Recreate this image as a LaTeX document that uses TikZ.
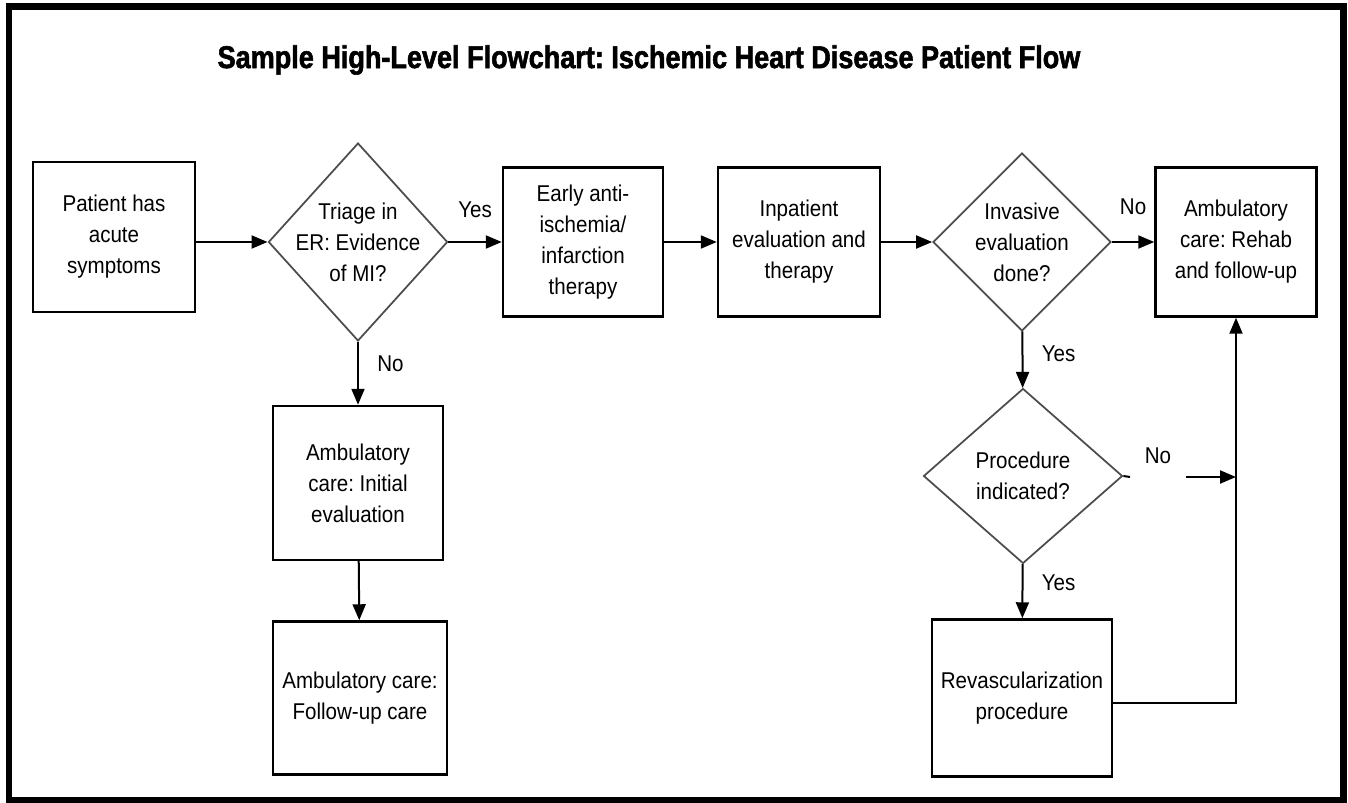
\documentclass[tikz,border=0pt]{standalone}
\usepackage{fontspec}
\setmainfont{Liberation Sans}[FakeStretch=0.9]
\newfontfamily\titlefont{Liberation Sans Bold}[FakeStretch=0.86, FakeBold=1.8]
\frenchspacing
\usetikzlibrary{shapes.geometric,arrows.meta}
\tikzset{
        every node/.style={font=\fontsize{13}{17.6}\selectfont, align=center},
        box/.style={rectangle, draw=black, line width=0.5mm, minimum width=3.24cm, minimum height=3cm, inner sep=2pt},
        decision/.style={diamond, draw=black!70, line width=0.35mm, inner sep=0pt, aspect=1},
        wire/.style={draw=black, line width=0.4mm},
        flow/.style={wire, -{Triangle[length=3.2mm,width=2.6mm]}},
        lbl/.style={font=\fontsize{13}{15}\selectfont},
        frame/.style={line width=1.4mm}
          }
\begin{document}
\begin{tikzpicture}[x=0.02cm, y=-0.02cm]
        \useasboundingbox (0,0) rectangle (1348,803);
        \draw[frame] (9,6.5) rectangle (1343.5,800);
        \node[font=\titlefont\fontsize{17.9}{20}\selectfont] (title) at (649,60) {Sample High-Level Flowchart: Ischemic Heart Disease Patient Flow};

        % top row
        \node[box] (patient) at (114,237) {Patient has\\acute\\symptoms};
        \node[decision, inner sep=-1.2mm, minimum width=3.58cm, minimum height=3.96cm] (triage) at (358,242) {Triage in\\ER: Evidence\\of MI?};
        \node[box, minimum width=3.2cm, minimum height=2.98cm] (early) at (583,242) {Early anti-\\ischemia/\\infarction\\therapy};
        \node[box, minimum height=2.98cm] (inpatient) at (799,242) {Inpatient\\evaluation and\\therapy};
        \node[decision, minimum width=3.56cm, minimum height=3.56cm] (invasive) at (1022,242) {Invasive\\evaluation\\done?};
        \node[box, minimum width=3.22cm, minimum height=2.98cm] (rehab) at (1236,242) {Ambulatory\\care: Rehab\\and follow-up};

        % left column
        \node[box, minimum width=3.4cm, minimum height=3.08cm] (initial) at (358,483) {Ambulatory\\care: Initial\\evaluation};
        \node[box, minimum width=3.48cm, minimum height=3.06cm] (followup) at (360,698) {Ambulatory care:\\Follow-up care};

        % right column
        \node[decision, minimum width=3.98cm, minimum height=3.5cm] (procedure) at (1023,476) {Procedure\\indicated?};
        \node[box, minimum width=3.6cm, minimum height=3.14cm] (revasc) at (1022,698) {Revascularization\\procedure};

        \coordinate (gapL) at (1130,477);
        \coordinate (gapR) at (1186,477);
        \coordinate (join) at (rehab.south |- gapR);
        \coordinate (out) at ([yshift=-0.1cm]revasc.east);

        \draw[flow] (patient.east |- triage.west) -- (triage);
        \draw[flow] (triage) -- node[lbl, above=3.5mm] {Yes} (early);
        \draw[flow] (early) -- (inpatient);
        \draw[flow] (inpatient) -- (invasive);
        \draw[flow] (invasive) -- node[lbl, above=4mm] {No} (rehab);
        \draw[flow] (triage) -- node[lbl, right=2.5mm, pos=0.35] {No} (initial);
        \draw[flow] (initial) -- (followup);
        \draw[flow] (invasive) -- node[lbl, right=2.5mm, pos=0.4] {Yes} (procedure);
        \draw[flow] (procedure) -- node[lbl, right=2.5mm, pos=0.35] {Yes} (revasc);
        \draw[wire] (procedure.east) -- (gapL);
        \path (gapL) -- node[lbl, above=1.5mm] {No} (gapR);
        \draw[flow] (gapR) -- (join);
        \draw[flow] (out) -- (out -| rehab.south) -- (rehab.south);
\end{tikzpicture}
\end{document}
